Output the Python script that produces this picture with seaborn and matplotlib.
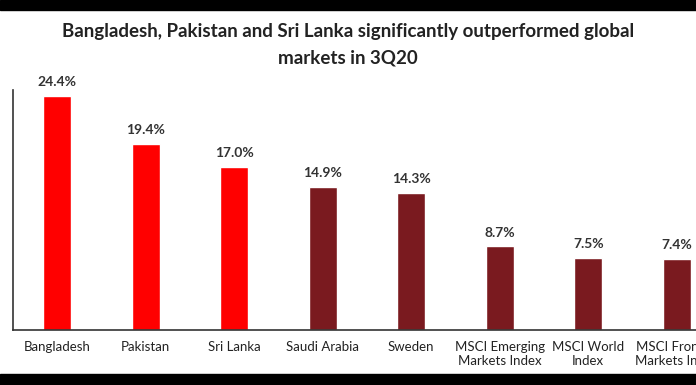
import matplotlib.pyplot as plt
import seaborn as sns
import pandas as pd
from matplotlib.patches import Rectangle

categories = ['Bangladesh', 'Pakistan', 'Sri Lanka', 'Saudi Arabia', 'Sweden',
              'MSCI Emerging\nMarkets Index', 'MSCI World\nIndex', 'MSCI Frontier\nMarkets Index']
returns = [24.4, 19.4, 17.0, 14.9, 14.3, 8.7, 7.5, 7.4]
bar_colors = ['#ff0000', '#ff0000', '#ff0000', '#7a1a1f', '#7a1a1f', '#7a1a1f', '#7a1a1f', '#7a1a1f']

df = pd.DataFrame({'market': categories, 'ret': returns})

sns.set_theme(style='white')
plt.rcParams['font.family'] = ['Lato', 'DejaVu Sans']

fig = plt.figure(figsize=(6.96, 3.85), dpi=100)
W, H = 696, 385
ax = fig.add_axes([13 / W, 55 / H, 708 / W, 240 / H])

sns.barplot(data=df, x='market', y='ret', hue='market', palette=bar_colors,
            legend=False, width=0.32, saturation=1, ax=ax)

ax.set_xlim(-0.5, 7.5)
ax.set_ylim(0, 25.0)
ax.set_yticks([])
ax.set_xlabel('')
ax.set_ylabel('')
ax.tick_params(axis='x', length=0, pad=8, labelsize=9.5, colors='#222222')
for s in ['top', 'right']:
    ax.spines[s].set_visible(False)
for s in ['left', 'bottom']:
    ax.spines[s].set_color('#333333')
    ax.spines[s].set_linewidth(1.2)

for i, v in enumerate(returns):
    ax.text(i, v + 0.8, f'{v:.1f}%', ha='center', va='bottom',
            fontsize=10, fontweight='bold', color='#333333')

fig.text(348 / W, 1 - 32 / H, 'Bangladesh, Pakistan and Sri Lanka significantly outperformed global',
         ha='center', va='center', fontsize=13.5, fontweight='bold', color='#222222')
fig.text(348 / W, 1 - 58 / H, 'markets in 3Q20',
         ha='center', va='center', fontsize=13.5, fontweight='bold', color='#222222')

# black bands at top and bottom of the screenshot
fig.add_artist(Rectangle((0, 1 - 10 / H), 1, 10 / H, transform=fig.transFigure,
                         color='black', zorder=10))
fig.add_artist(Rectangle((0, 0), 1, 11 / H, transform=fig.transFigure,
                         color='black', zorder=10))

fig.savefig('out.png', dpi=100)
